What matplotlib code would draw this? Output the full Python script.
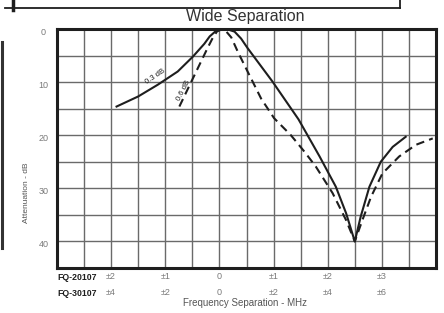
import matplotlib.pyplot as plt
import numpy as np

plt.rcParams["font.family"] = ["Liberation Sans", "DejaVu Sans"]

# Frequency separation in FQ-20107 MHz, attenuation in dB
solid_x = [-1.9, -1.5, -1.14, -0.77, -0.49, -0.28, -0.18, -0.08, 0.03, 0.16,
           0.28, 0.4, 0.52, 0.98, 1.46, 1.85, 2.15, 2.34, 2.5, 2.61, 2.77,
           2.98, 3.2, 3.44]
solid_db = [14.6, 12.7, 10.5, 8.0, 5.2, 2.8, 1.4, 0.5, 0.1, 0.1,
            0.5, 1.8, 3.6, 9.9, 17.0, 24.0, 29.7, 34.7, 40.0, 35.3, 29.7,
            25.0, 22.2, 20.3]

dashed_x = [-0.74, -0.58, -0.4, -0.22, -0.12, -0.04, 0.04, 0.12, 0.22, 0.34,
            0.52, 0.77, 1.01, 1.32, 1.57, 1.78, 2.09, 2.34, 2.5, 2.64, 2.8,
            3.01, 3.32, 3.63, 3.94]
dashed_db = [14.6, 11.2, 7.4, 3.6, 1.6, 0.4, 0.1, 0.4, 1.6, 4.3,
             8.0, 13.1, 16.8, 20.0, 23.1, 25.9, 30.9, 36.0, 40.0, 36.0, 31.6,
             27.2, 24.0, 21.8, 20.6]

y_ticks = [0, 10, 20, 30, 40]
x_label_pos = [-2, -1, 0, 1, 2, 3]
fq20107_labels = ["±2", "±1", "0", "±1", "±2", "±3"]
fq30107_labels = ["±4", "±2", "0", "±2", "±4", "±6"]

INK = "#1e1e1e"
GRID = "#6a6a6a"
SOFT = "#7a7a7a"

fig = plt.figure(figsize=(4.44, 3.13), dpi=100)
ax = fig.add_axes([57 / 444, 1 - 268 / 313, 379 / 444, 239 / 313])

ax.set_xlim(-3, 4)
ax.set_ylim(45, 0)
ax.set_xticks(np.arange(-3, 4.01, 0.5))
ax.set_yticks(np.arange(0, 45.1, 5))
ax.grid(True, color=GRID, linewidth=1.0)
ax.tick_params(length=0, labelbottom=False, labelleft=False)
for spine in ax.spines.values():
    spine.set_linewidth(2.2)
    spine.set_color(INK)

ax.plot(solid_x, solid_db, color=INK, linewidth=1.5, zorder=3,
        solid_joinstyle="round")
ax.plot(dashed_x, dashed_db, color=INK, linewidth=1.5,
        linestyle=(0, (4, 2.5)), zorder=3)

ax.text(-1.18, 8.9, "0.3 dB", rotation=34, fontsize=5.5, color=INK,
        ha="center", va="center")
ax.text(-0.66, 11.6, "0.6 dB", rotation=63, fontsize=5.5, color=INK,
        ha="center", va="center")

for val in y_ticks:
    ax.text(-3.25, val + 0.6, str(val), fontsize=6.5, color=SOFT,
            ha="center", va="center")

trans = ax.get_xaxis_transform()
for pos, lab1, lab2 in zip(x_label_pos, fq20107_labels, fq30107_labels):
    ax.text(pos, -0.037, lab1, transform=trans, fontsize=6.5, color=SOFT,
            ha="center", va="center")
    ax.text(pos, -0.104, lab2, transform=trans, fontsize=6.5, color=SOFT,
            ha="center", va="center")

fig.text(57 / 444, 1 - 277 / 313, "FQ-20107", fontsize=6.3, weight="bold",
         color=INK, ha="left", va="center")
fig.text(57 / 444, 1 - 293 / 313, "FQ-30107", fontsize=6.3, weight="bold",
         color=INK, ha="left", va="center")
fig.text(245 / 444, 1 - 303 / 313, "Frequency Separation - MHz", fontsize=7,
         color="#555555", ha="center", va="center")
fig.text(27 / 444, 1 - 193 / 313, "Attenuation - dB", fontsize=6,
         color="#555555", rotation=90, ha="center", va="center")
fig.text(245 / 444, 1 - 17 / 313, "Wide Separation", fontsize=11.5,
         color="#333333", ha="center", va="center")

# scraps of the scanned page around the chart
fig.add_artist(plt.Line2D([5 / 444, 400 / 444], [1 - 7.5 / 313] * 2,
                          color=INK, linewidth=1.3))
fig.add_artist(plt.Line2D([400 / 444] * 2, [1 - 7.5 / 313, 1],
                          color=INK, linewidth=1.3))
fig.add_artist(plt.Line2D([13 / 444] * 2, [1 - 10 / 313, 1],
                          color=INK, linewidth=2.5))
fig.add_artist(plt.Line2D([1.5 / 444] * 2, [1 - 248 / 313, 1 - 42 / 313],
                          color="#333333", linewidth=2.2))

fig.savefig("out.png", dpi=100)
plt.close(fig)
